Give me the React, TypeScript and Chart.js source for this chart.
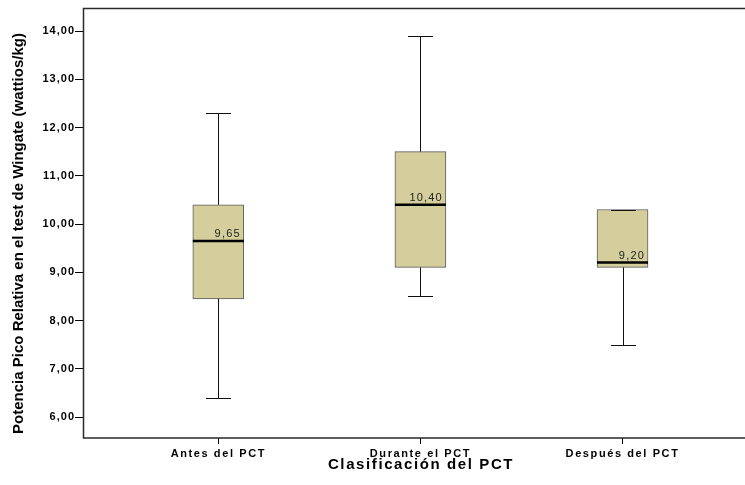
import React, { useEffect, useRef } from "react";
import { Chart, registerables } from "chart.js";

Chart.register(...registerables);

const categories = ["Antes del PCT", "Durante el PCT", "Después del PCT"];
const minValues = [6.4, 8.5, 7.5];
const q1Values = [8.45, 9.1, 9.1];
const medianValues = [9.65, 10.4, 9.2];
const q3Values = [10.4, 11.5, 10.3];
const maxValues = [12.3, 13.9, 10.3];
const yTickValues = [6, 7, 8, 9, 10, 11, 12, 13, 14];
const categoryPositions = [1, 2, 3];

const yTitle = "Potencia Pico Relativa en el test de Wingate (wattios/kg)";
const xTitle = "Clasificación del PCT";

const fmt = (v: number) => v.toFixed(2).replace(".", ",");

const FONT = "'Liberation Sans', Arial, sans-serif";

const textStylePlugin = {
  id: "textStyle",
  beforeDraw(chart: any) {
    const cfg: any = {
      x: { tick: "1.6px", title: "1.6px", dx: 7, dy: 0 },
      y: { tick: "1px", title: "0px", dx: 0, dy: 10.5 },
    };
    for (const id of ["x", "y"]) {
      const s: any = chart.scales[id];
      if (!s || s.__wrapped) continue;
      s.__wrapped = true;
      const c = cfg[id];
      const dl = s.drawLabels.bind(s);
      s.drawLabels = (ca: any) => {
        const ctx = s.ctx;
        ctx.save();
        ctx.letterSpacing = c.tick;
        dl(ca);
        ctx.restore();
      };
      const dt = s.drawTitle.bind(s);
      s.drawTitle = () => {
        const ctx = s.ctx;
        ctx.save();
        ctx.letterSpacing = c.title;
        ctx.translate(c.dx, c.dy);
        dt();
        ctx.restore();
      };
    }
  },
};

const boxPlotPlugin = {
  id: "boxExtras",
  afterDatasetsDraw(chart: any) {
    const { ctx, scales } = chart;
    const xs = scales.x;
    const ys = scales.y;
    const boxW = 51;
    const capW = 25;
    ctx.save();
    ctx.strokeStyle = "#111";
    ctx.lineWidth = 1;
    categoryPositions.forEach((pos, i) => {
      const cx = Math.round(xs.getPixelForValue(pos)) + 0.5;
      const yMin = Math.round(ys.getPixelForValue(minValues[i])) + 0.5;
      const yMax = Math.round(ys.getPixelForValue(maxValues[i])) + 0.5;
      const yQ1 = ys.getPixelForValue(q1Values[i]);
      const yQ3 = ys.getPixelForValue(q3Values[i]);
      ctx.beginPath();
      if (yMax < yQ3 - 1) {
        ctx.moveTo(cx, yQ3);
        ctx.lineTo(cx, yMax);
      }
      if (yMin > yQ1 + 1) {
        ctx.moveTo(cx, yQ1);
        ctx.lineTo(cx, yMin);
      }
      ctx.moveTo(cx - capW / 2, yMax);
      ctx.lineTo(cx + capW / 2, yMax);
      ctx.moveTo(cx - capW / 2, yMin);
      ctx.lineTo(cx + capW / 2, yMin);
      ctx.stroke();
    });
    categoryPositions.forEach((pos, i) => {
      const cx = xs.getPixelForValue(pos);
      const ym = ys.getPixelForValue(medianValues[i]);
      ctx.strokeStyle = "#000";
      ctx.lineWidth = 2.5;
      ctx.beginPath();
      ctx.moveTo(cx - boxW / 2, ym);
      ctx.lineTo(cx + boxW / 2, ym);
      ctx.stroke();
      ctx.fillStyle = "#222";
      ctx.font = `11px ${FONT}`;
      (ctx as any).letterSpacing = "1.2px";
      ctx.textAlign = "right";
      ctx.textBaseline = "alphabetic";
      ctx.fillText(fmt(medianValues[i]), cx + boxW / 2 - 3, ym - 3.5);
      (ctx as any).letterSpacing = "0px";
    });
    ctx.restore();
  },
  afterDraw(chart: any) {
    const { ctx, chartArea } = chart;
    ctx.save();
    ctx.strokeStyle = "#2a2a2a";
    ctx.lineWidth = 1.5;
    ctx.beginPath();
    ctx.moveTo(chart.width + 2, chartArea.top + 0.5);
    ctx.lineTo(chartArea.left + 0.5, chartArea.top + 0.5);
    ctx.lineTo(chartArea.left + 0.5, chartArea.bottom);
    ctx.lineTo(chart.width + 2, chartArea.bottom);
    ctx.stroke();
    ctx.restore();
  },
};

export default function App() {
  const ref = useRef<HTMLCanvasElement | null>(null);
  useEffect(() => {
    if (!ref.current) return;
    const chart = new Chart(ref.current, {
      type: "bar",
      data: {
        datasets: [
          {
            label: "Caja",
            data: categoryPositions.map((p, i) => ({ x: p, y: [q1Values[i], q3Values[i]] })) as any,
            backgroundColor: "rgb(211,206,155)",
            borderColor: "#5a5a5a",
            borderWidth: 1,
            borderSkipped: false,
            barThickness: 51,
          } as any,
        ],
      },
      options: {
        responsive: false,
        animation: false,
        layout: { padding: { top: 8, left: 0, right: 0, bottom: 0 } },
        plugins: { legend: { display: false }, tooltip: { enabled: false } },
        scales: {
          x: {
            type: "linear",
            min: 0.3305,
            max: 3.606,
            offset: false,
            afterFit: (s: any) => {
              s.height = 47;
            },
            afterBuildTicks: (s: any) => {
              s.ticks = categoryPositions.map((v) => ({ value: v }));
            },
            ticks: {
              color: "#000",
              font: { family: FONT, size: 11, weight: "bold" },
              padding: 3,
              maxRotation: 0,
              autoSkip: false,
              callback: (v: any) => {
                const idx = categoryPositions.indexOf(Number(v));
                return idx >= 0 ? categories[idx] : "";
              },
            },
            grid: { drawOnChartArea: false, color: "#000", tickLength: 6, lineWidth: 1, offset: false },
            border: { display: false },
            title: {
              display: true,
              text: xTitle,
              color: "#000",
              font: { family: FONT, size: 15, weight: "bold" },
              padding: { top: 0, bottom: 11.5 },
            },
          },
          y: {
            type: "linear",
            min: 5.565,
            max: 14.477,
            afterFit: (s: any) => {
              s.width = 83;
            },
            afterBuildTicks: (s: any) => {
              s.ticks = yTickValues.map((v) => ({ value: v }));
            },
            ticks: {
              color: "#000",
              font: { family: FONT, size: 11, weight: "bold" },
              padding: 0,
              callback: (v: any) => fmt(Number(v)),
            },
            grid: { drawOnChartArea: false, color: "#000", tickLength: 8, lineWidth: 1 },
            border: { display: false },
            title: {
              display: true,
              text: yTitle,
              color: "#000",
              font: { family: FONT, size: 15, weight: "bold" },
              padding: { top: 10.2, bottom: 0 },
            },
          },
        },
      },
      plugins: [textStylePlugin, boxPlotPlugin],
    });
    return () => chart.destroy();
  }, []);
  return (
    <div style={{ position: "absolute", left: 0, top: 0, width: 745, height: 485 }}>
      <canvas ref={ref} width={745} height={485} />
    </div>
  );
}
